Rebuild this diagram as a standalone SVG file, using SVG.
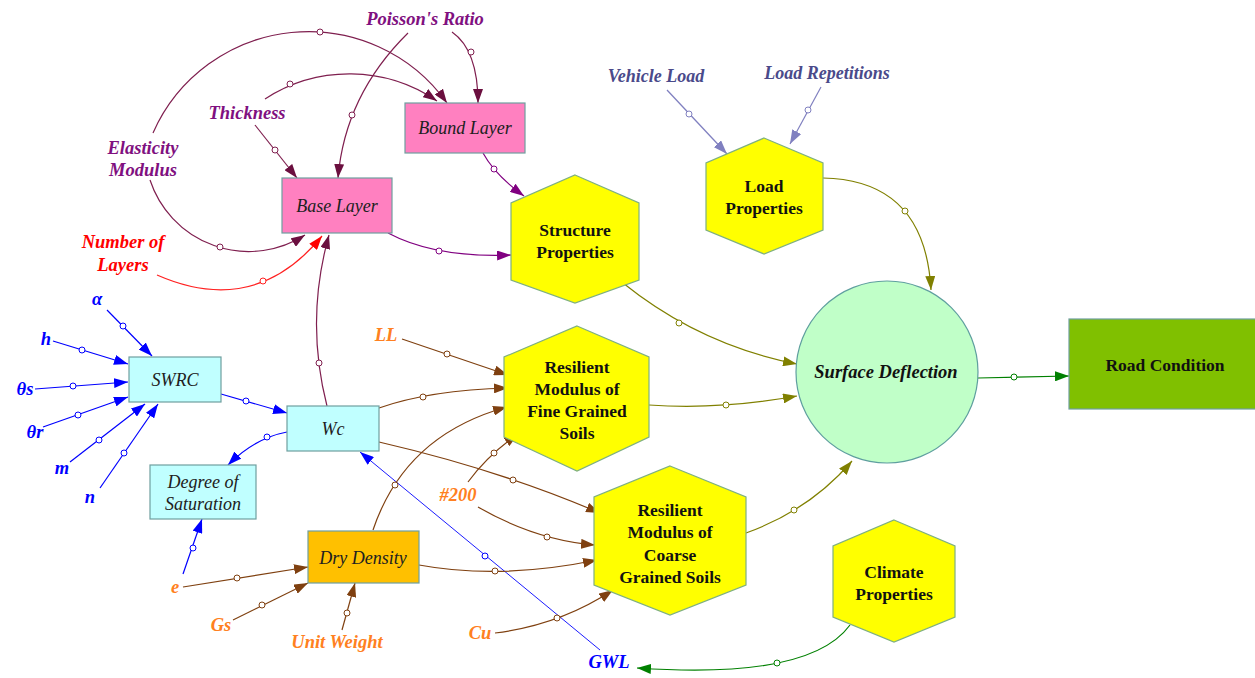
<svg xmlns="http://www.w3.org/2000/svg" width="1255" height="678" viewBox="0 0 1255 678">
<defs>
<style>
.lbl{font-family:"Liberation Serif","Times New Roman",serif;font-style:italic;font-weight:bold;font-size:18.5px;text-anchor:middle}
.nt{font-family:"Liberation Serif","Times New Roman",serif;font-style:italic;font-size:18px;text-anchor:middle;fill:#202020}
.hb{font-family:"Liberation Serif","Times New Roman",serif;font-weight:bold;font-size:17.5px;text-anchor:middle;fill:#111}
.c{fill:none;stroke-width:1.2}
.pink{fill:#ff80c0;stroke:#6f9f9f;stroke-width:1.2}
.cyan{fill:#c0ffff;stroke:#6f9f9f;stroke-width:1.2}
.hex{fill:#ffff00;stroke:#7fb07f;stroke-width:1.2}
.dot{fill:#fff;stroke-width:1}
</style>
<marker id="a-mar" viewBox="0 0 14 10" refX="14" refY="5" markerWidth="14" markerHeight="10" markerUnits="userSpaceOnUse" orient="auto"><path d="M0,0L14,5L0,10z" fill="#6b0f3f"/></marker>
<marker id="a-pur" viewBox="0 0 14 10" refX="14" refY="5" markerWidth="14" markerHeight="10" markerUnits="userSpaceOnUse" orient="auto"><path d="M0,0L14,5L0,10z" fill="#800080"/></marker>
<marker id="a-red" viewBox="0 0 14 10" refX="14" refY="5" markerWidth="14" markerHeight="10" markerUnits="userSpaceOnUse" orient="auto"><path d="M0,0L14,5L0,10z" fill="#ff0000"/></marker>
<marker id="a-blu" viewBox="0 0 14 10" refX="14" refY="5" markerWidth="14" markerHeight="10" markerUnits="userSpaceOnUse" orient="auto"><path d="M0,0L14,5L0,10z" fill="#0000ff"/></marker>
<marker id="a-brn" viewBox="0 0 14 10" refX="14" refY="5" markerWidth="14" markerHeight="10" markerUnits="userSpaceOnUse" orient="auto"><path d="M0,0L14,5L0,10z" fill="#7f4010"/></marker>
<marker id="a-olv" viewBox="0 0 14 10" refX="14" refY="5" markerWidth="14" markerHeight="10" markerUnits="userSpaceOnUse" orient="auto"><path d="M0,0L14,5L0,10z" fill="#808000"/></marker>
<marker id="a-grn" viewBox="0 0 14 10" refX="14" refY="5" markerWidth="14" markerHeight="10" markerUnits="userSpaceOnUse" orient="auto"><path d="M0,0L14,5L0,10z" fill="#008000"/></marker>
<marker id="a-lav" viewBox="0 0 14 10" refX="14" refY="5" markerWidth="14" markerHeight="10" markerUnits="userSpaceOnUse" orient="auto"><path d="M0,0L14,5L0,10z" fill="#8080c0"/></marker>
</defs>
<rect width="1255" height="678" fill="#fff"/>

<g id="connectors">
<g stroke="#7f1f4f">
<path class="c" d="M153,133 A170,170 0 0 1 447,103" marker-end="url(#a-mar)"/>
<path class="c" d="M150,180 A104,104 0 0 0 305,235" marker-end="url(#a-mar)"/>
<path class="c" d="M265,99 A155,155 0 0 1 437,101" marker-end="url(#a-mar)"/>
<path class="c" d="M255,125 L297,178" marker-end="url(#a-mar)"/>
<path class="c" d="M452,32 Q478,50 478,103" marker-end="url(#a-mar)"/>
<path class="c" d="M408,33 Q345,95 338,178" marker-end="url(#a-mar)"/>
<path class="c" d="M327,406 Q305,320 329,235" marker-end="url(#a-mar)"/>
<circle class="dot" cx="320" cy="32" r="3"/>
<circle class="dot" cx="220" cy="247" r="3"/>
<circle class="dot" cx="290" cy="84" r="3"/>
<circle class="dot" cx="275" cy="150" r="3"/>
<circle class="dot" cx="471" cy="52" r="3"/>
<circle class="dot" cx="352" cy="115" r="3"/>
<circle class="dot" cx="319" cy="363" r="3"/>
</g>
<g stroke="#800080">
<path class="c" d="M483,153 Q495,175 524,196" marker-end="url(#a-pur)"/>
<path class="c" d="M388,233 Q435,258 511,255" marker-end="url(#a-pur)"/>
<circle class="dot" cx="494" cy="169" r="3"/>
<circle class="dot" cx="439" cy="251" r="3"/>
</g>
<g stroke="#ff2020">
<path class="c" d="M157,275 Q255,318 322,236" marker-end="url(#a-red)"/>
<circle class="dot" cx="263" cy="281" r="3"/>
</g>
<g stroke="#8080c0">
<path class="c" d="M667,90 L727,154" marker-end="url(#a-lav)"/>
<path class="c" d="M821,87 L790,144" marker-end="url(#a-lav)"/>
<circle class="dot" cx="689" cy="114" r="3"/>
<circle class="dot" cx="808" cy="110" r="3"/>
</g>
<g stroke="#808000">
<path class="c" d="M823,178 Q925,180 931,290" marker-end="url(#a-olv)"/>
<path class="c" d="M623,283 Q700,345 797,364" marker-end="url(#a-olv)"/>
<path class="c" d="M649,405 Q720,410 797,396" marker-end="url(#a-olv)"/>
<path class="c" d="M746,533 Q810,510 852,461" marker-end="url(#a-olv)"/>
<circle class="dot" cx="905" cy="211" r="3"/>
<circle class="dot" cx="679" cy="323" r="3"/>
<circle class="dot" cx="726" cy="405" r="3"/>
<circle class="dot" cx="794" cy="510" r="3"/>
</g>
<g stroke="#008000">
<path class="c" d="M978,378 L1069,376" marker-end="url(#a-grn)"/>
<path class="c" d="M850,625 Q810,680 637,668" marker-end="url(#a-grn)"/>
<circle class="dot" cx="1014" cy="377" r="3"/>
<circle class="dot" cx="777" cy="663" r="3"/>
</g>
<g stroke="#0000ff">
<path class="c" d="M107,310 L152,356" marker-end="url(#a-blu)"/>
<path class="c" d="M53,341 L128,364" marker-end="url(#a-blu)"/>
<path class="c" d="M35,389 L128,382" marker-end="url(#a-blu)"/>
<path class="c" d="M43,427 L128,397" marker-end="url(#a-blu)"/>
<path class="c" d="M70,462 L145,404" marker-end="url(#a-blu)"/>
<path class="c" d="M100,488 L158,404" marker-end="url(#a-blu)"/>
<path class="c" d="M221,394 L287,413" marker-end="url(#a-blu)"/>
<path class="c" d="M287,432 Q255,438 228,465" marker-end="url(#a-blu)"/>
<path class="c" d="M183,574 L202,519" marker-end="url(#a-blu)"/>
<path class="c" style="stroke-width:0.9" d="M600,650 L360,452" marker-end="url(#a-blu)"/>
<circle class="dot" cx="123" cy="326" r="3"/>
<circle class="dot" cx="82" cy="350" r="3"/>
<circle class="dot" cx="73" cy="386" r="3"/>
<circle class="dot" cx="78" cy="415" r="3"/>
<circle class="dot" cx="99" cy="440" r="3"/>
<circle class="dot" cx="124" cy="453" r="3"/>
<circle class="dot" cx="246" cy="401" r="3"/>
<circle class="dot" cx="267" cy="437" r="3"/>
<circle class="dot" cx="193" cy="548" r="3"/>
<circle class="dot" cx="485" cy="556" r="3"/>
</g>
<g stroke="#7f4010">
<path class="c" d="M402,339 L508,375" marker-end="url(#a-brn)"/>
<path class="c" d="M379,408 Q430,390 508,388" marker-end="url(#a-brn)"/>
<path class="c" d="M373,530 Q405,435 507,407" marker-end="url(#a-brn)"/>
<path class="c" d="M468,482 Q488,455 518,434" marker-end="url(#a-brn)"/>
<path class="c" d="M379,442 Q500,470 600,513" marker-end="url(#a-brn)"/>
<path class="c" d="M478,507 Q535,540 595,545" marker-end="url(#a-brn)"/>
<path class="c" d="M419,565 Q500,580 597,560" marker-end="url(#a-brn)"/>
<path class="c" d="M495,633 Q560,625 613,590" marker-end="url(#a-brn)"/>
<path class="c" d="M183,587 L308,567" marker-end="url(#a-brn)"/>
<path class="c" d="M233,620 L308,583" marker-end="url(#a-brn)"/>
<path class="c" d="M342,630 L355,583" marker-end="url(#a-brn)"/>
<circle class="dot" cx="447" cy="354" r="3"/>
<circle class="dot" cx="423" cy="397" r="3"/>
<circle class="dot" cx="395" cy="485" r="3"/>
<circle class="dot" cx="494" cy="453" r="3"/>
<circle class="dot" cx="513" cy="480" r="3"/>
<circle class="dot" cx="547" cy="537" r="3"/>
<circle class="dot" cx="495" cy="571" r="3"/>
<circle class="dot" cx="557" cy="618" r="3"/>
<circle class="dot" cx="237" cy="578" r="3"/>
<circle class="dot" cx="262" cy="605" r="3"/>
<circle class="dot" cx="347" cy="613" r="3"/>
</g>
</g>

<g id="bound-layer"><rect class="pink" x="405" y="103" width="120" height="50"/><text class="nt" x="465" y="134">Bound Layer</text></g>
<g id="base-layer"><rect class="pink" x="282" y="178" width="110" height="55"/><text class="nt" x="337" y="212">Base Layer</text></g>
<g id="swrc"><rect class="cyan" x="129" y="357" width="92" height="45"/><text class="nt" x="175" y="386">SWRC</text></g>
<g id="wc"><rect class="cyan" x="287" y="406" width="92" height="45"/><text class="nt" x="333" y="435">Wc</text></g>
<g id="degree-of-saturation"><rect class="cyan" x="150" y="465" width="106" height="54"/><text class="nt" x="203" y="488">Degree of</text><text class="nt" x="203" y="510">Saturation</text></g>
<g id="dry-density"><rect x="308" y="531" width="111" height="52" fill="#ffc000" stroke="#6f9f9f" stroke-width="1.2"/><text class="nt" x="363" y="564">Dry Density</text></g>

<g id="structure-properties"><polygon class="hex" points="575,175 639,203 639,280 575,303 511,280 511,203"/><text class="hb" x="575" y="236">Structure</text><text class="hb" x="575" y="258">Properties</text></g>
<g id="load-properties"><polygon class="hex" points="764,138 823,163 823,230 764,254 706,230 706,163"/><text class="hb" x="764" y="192">Load</text><text class="hb" x="764" y="214">Properties</text></g>
<g id="fine-soils"><polygon class="hex" points="577,326 649,357 649,437 577,471 504,437 504,357"/><text class="hb" x="577" y="373">Resilient</text><text class="hb" x="577" y="395">Modulus of</text><text class="hb" x="577" y="417">Fine Grained</text><text class="hb" x="577" y="439">Soils</text></g>
<g id="coarse-soils"><polygon class="hex" points="670,466 746,497 746,585 670,615 594,585 594,497"/><text class="hb" x="670" y="516">Resilient</text><text class="hb" x="670" y="538">Modulus of</text><text class="hb" x="670" y="561">Coarse</text><text class="hb" x="670" y="583">Grained Soils</text></g>
<g id="climate-properties"><polygon class="hex" points="894,520 955,546 955,617 894,642 833,617 833,546"/><text class="hb" x="894" y="578">Climate</text><text class="hb" x="894" y="600">Properties</text></g>
<g id="surface-deflection"><circle cx="887" cy="372" r="91" fill="#c0ffc8" stroke="#5f9f9f" stroke-width="1.2"/><text class="lbl" x="886" y="378" fill="#111">Surface Deflection</text></g>
<g id="road-condition"><rect x="1069" y="319" width="190" height="90" fill="#80c000" stroke="#6f9f9f" stroke-width="1.2"/><text class="hb" x="1165" y="371">Road Condition</text></g>

<g id="labels">
<text class="lbl" x="425" y="25" fill="#801080">Poisson's Ratio</text>
<text class="lbl" x="247" y="119" fill="#801080">Thickness</text>
<text class="lbl" x="143" y="154" fill="#801080">Elasticity</text>
<text class="lbl" x="143" y="176" fill="#801080">Modulus</text>
<text class="lbl" x="123" y="248" fill="#ff0000">Number of</text>
<text class="lbl" x="123" y="271" fill="#ff0000">Layers</text>
<text class="lbl" x="656" y="82" fill="#4a4a8a" style="font-size:18px">Vehicle Load</text>
<text class="lbl" x="827" y="79" fill="#4a4a8a" style="font-size:18px">Load Repetitions</text>
<text class="lbl" x="97" y="305" fill="#0000ff">α</text>
<text class="lbl" x="46" y="345" fill="#0000ff">h</text>
<text class="lbl" x="25" y="395" fill="#0000ff">θs</text>
<text class="lbl" x="35" y="438" fill="#0000ff">θr</text>
<text class="lbl" x="62" y="474" fill="#0000ff">m</text>
<text class="lbl" x="90" y="503" fill="#0000ff">n</text>
<text class="lbl" x="386" y="341" fill="#ff8020">LL</text>
<text class="lbl" x="458" y="501" fill="#ff8020">#200</text>
<text class="lbl" x="175" y="593" fill="#ff8020">e</text>
<text class="lbl" x="221" y="631" fill="#ff8020">Gs</text>
<text class="lbl" x="337" y="648" fill="#ff8020">Unit Weight</text>
<text class="lbl" x="480" y="639" fill="#ff8020">Cu</text>
<text class="lbl" x="609" y="668" fill="#0000ff">GWL</text>
</g>
</svg>
